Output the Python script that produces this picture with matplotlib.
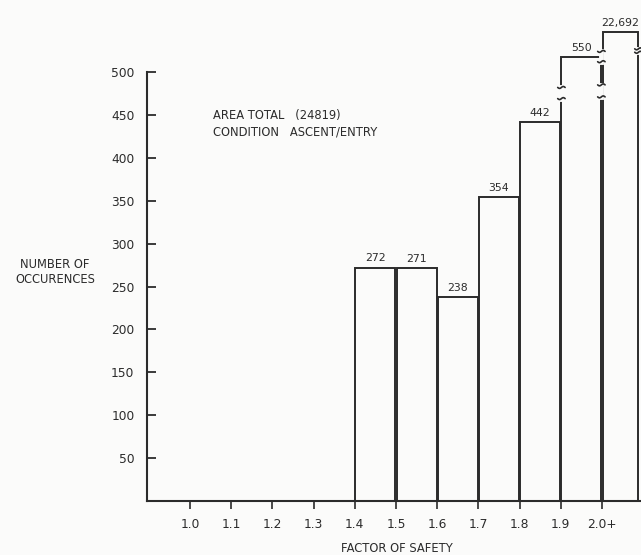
import numpy as np
import matplotlib
matplotlib.use("Agg")
import matplotlib.pyplot as plt

# ---- data ----
bin_starts = [1.4, 1.5, 1.6, 1.7, 1.8, 1.9, 2.0]
counts = [272, 271, 238, 354, 442, 550, 22692]
count_labels = ["272", "271", "238", "354", "442", "550", "22,692"]
tick_positions = [1.0, 1.1, 1.2, 1.3, 1.4, 1.5, 1.6, 1.7, 1.8, 1.9, 2.0]
tick_labels = ["1.0", "1.1", "1.2", "1.3", "1.4", "1.5", "1.6", "1.7", "1.8", "1.9", "2.0+"]
yticks = [50, 100, 150, 200, 250, 300, 350, 400, 450, 500]

# ---- style (broken bars are drawn shortened) ----
AX_TOP = 500
drawn_cap = {550: 517, 22692: 547}
widths = [0.1, 0.1, 0.1, 0.1, 0.1, 0.1, 0.09]
INK = "#2b2b2b"
BG = "#fbfbfa"

fig = plt.figure(figsize=(6.41, 5.55), dpi=100)
fig.patch.set_facecolor(BG)
ax = fig.add_axes([147 / 641, (555 - 501) / 555, 1 - 147 / 641, (501 - 72) / 555])
ax.set_facecolor("none")
ax.set_xlim(0.8956, 2.0947)
ax.set_ylim(0, AX_TOP)

for x0, c, w, lab in zip(bin_starts, counts, widths, count_labels):
    h = drawn_cap.get(c, c)
    ax.bar(x0 + 0.0015, h, width=w - 0.003, align="edge", fill=False,
           edgecolor=INK, linewidth=1.4, clip_on=False, zorder=3)
    ax.annotate(lab, (x0 + w / 2, h), xytext=(0, 3), textcoords="offset points",
                ha="center", va="bottom", fontsize=7.8, color=INK,
                annotation_clip=False)

# break marks: (x, y_low, y_high)
breaks = [(1.9015, 469, 482), (1.9985, 471, 485), (1.9985, 512, 524), (2.0885, 523, 527)]

def squiggle(x, y):
    t = np.linspace(-1, 1, 30)
    ax.plot(x + t * 0.009, y + 1.1 * np.sin(t * np.pi), color=INK, lw=1.2,
            clip_on=False, zorder=5, solid_capstyle="round")

for x, lo, hi in breaks:
    ax.plot([x, x], [lo, hi], color=BG, lw=3.5, clip_on=False, zorder=4)
    squiggle(x, lo)
    squiggle(x, hi)

for s in ["top", "right"]:
    ax.spines[s].set_visible(False)
for s in ["left", "bottom"]:
    ax.spines[s].set_color(INK)
    ax.spines[s].set_linewidth(1.5)

ax.set_yticks(yticks)
ax.set_yticklabels([str(v) for v in yticks])
ax.tick_params(axis="y", direction="in", length=6.5, width=1.3, colors=INK,
               labelsize=8.8, pad=9)
ax.set_xticks(tick_positions)
ax.set_xticklabels(tick_labels)
ax.tick_params(axis="x", direction="out", length=6, width=1.2, colors=INK,
               labelsize=8.8, pad=6)

fig.text(55 / 641, 1 - 272 / 555, "NUMBER OF\nOCCURENCES", ha="center", va="center",
         fontsize=8.3, color=INK, linespacing=1.15)
fig.text(397 / 641, 1 - 549 / 555, "FACTOR OF SAFETY", ha="center", va="center",
         fontsize=8.3, color=INK)
fig.text(213 / 641, 1 - 115 / 555, "AREA TOTAL   (24819)", ha="left", va="center",
         fontsize=8.3, color=INK)
fig.text(213 / 641, 1 - 132 / 555, "CONDITION   ASCENT/ENTRY", ha="left", va="center",
         fontsize=8.3, color=INK)

fig.savefig("out.png", dpi=100, facecolor=fig.get_facecolor())
